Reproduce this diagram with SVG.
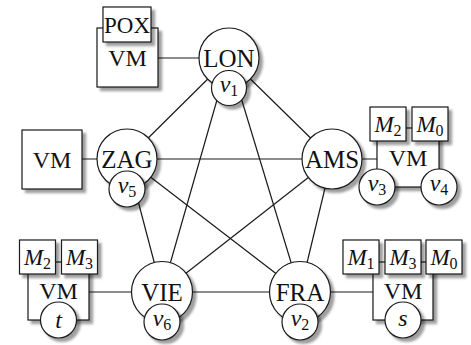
<svg xmlns="http://www.w3.org/2000/svg" width="471" height="345" viewBox="0 0 471 345">
<defs>
<filter id="sh" x="-30%" y="-30%" width="170%" height="170%">
<feDropShadow dx="3.5" dy="3.5" stdDeviation="1.2" flood-color="#000" flood-opacity="0.38"/>
</filter>
</defs>
<style>
.edge{stroke:#1a1a1a;stroke-width:1.2;fill:none}
.shape{fill:#fff;stroke:#1a1a1a;stroke-width:1.2;filter:url(#sh)}
text{font-family:"Liberation Serif","DejaVu Serif",serif;fill:#111;text-anchor:middle}
.big{font-size:25px}
.mid{font-size:24px}
.lab{font-size:23px}
.it{font-style:italic}
.sub{font-size:16px;font-style:normal}
</style>
<rect width="471" height="345" fill="#fff"/>
<g id="connectors">
<line class="edge" x1="229" y1="58" x2="127" y2="159"/>
<line class="edge" x1="229" y1="58" x2="332" y2="159"/>
<line class="edge" x1="229" y1="58" x2="162" y2="292"/>
<line class="edge" x1="229" y1="58" x2="300" y2="292"/>
<line class="edge" x1="127" y1="159" x2="332" y2="159"/>
<line class="edge" x1="127" y1="159" x2="162" y2="292"/>
<line class="edge" x1="127" y1="159" x2="300" y2="292"/>
<line class="edge" x1="332" y1="159" x2="162" y2="292"/>
<line class="edge" x1="332" y1="159" x2="300" y2="292"/>
<line class="edge" x1="162" y1="292" x2="300" y2="292"/>
<line class="edge" x1="158" y1="58" x2="229" y2="58"/>
<line class="edge" x1="82" y1="159" x2="127" y2="159"/>
<line class="edge" x1="332" y1="159" x2="377" y2="159"/>
<line class="edge" x1="89" y1="292" x2="162" y2="292"/>
<line class="edge" x1="300" y1="292" x2="373" y2="292"/>
</g>
<g id="vm-lon">
<rect class="shape" x="97" y="28" width="61" height="59"/>
<rect class="shape" x="103" y="7" width="48" height="35"/>
<text class="lab" x="127" y="32.5">POX</text>
<text class="mid" x="127.5" y="66">VM</text>
</g>
<g id="vm-zag">
<rect class="shape" x="22" y="130" width="60" height="59"/>
<text class="mid" x="52" y="167.5">VM</text>
</g>
<g id="vm-ams">
<rect class="shape" x="377" y="128" width="62" height="59"/>
<rect class="shape" x="370" y="107" width="36" height="34"/>
<rect class="shape" x="412" y="107" width="36" height="34"/>
<text class="lab" x="388" y="132"><tspan class="it">M</tspan><tspan class="sub" dy="4">2</tspan></text>
<text class="lab" x="430" y="132"><tspan class="it">M</tspan><tspan class="sub" dy="4">0</tspan></text>
<text class="mid" x="408" y="166">VM</text>
<circle class="shape" cx="377" cy="187" r="18"/>
<text class="mid" x="377" y="191"><tspan class="it">v</tspan><tspan class="sub" dy="4">3</tspan></text>
<circle class="shape" cx="439" cy="187" r="18"/>
<text class="mid" x="439" y="191"><tspan class="it">v</tspan><tspan class="sub" dy="4">4</tspan></text>
</g>
<g id="vm-vie">
<rect class="shape" x="28" y="262" width="61" height="58"/>
<rect class="shape" x="19.5" y="240" width="36" height="34"/>
<rect class="shape" x="61.5" y="240" width="36" height="34"/>
<text class="lab" x="37.5" y="265"><tspan class="it">M</tspan><tspan class="sub" dy="4">2</tspan></text>
<text class="lab" x="79.5" y="265"><tspan class="it">M</tspan><tspan class="sub" dy="4">3</tspan></text>
<text class="mid" x="58.5" y="299">VM</text>
<circle class="shape" cx="58.5" cy="320" r="18"/>
<text class="mid it" x="58.5" y="328">t</text>
</g>
<g id="vm-fra">
<rect class="shape" x="373" y="262" width="60" height="58"/>
<rect class="shape" x="343" y="240" width="36" height="34"/>
<rect class="shape" x="385" y="240" width="36" height="34"/>
<rect class="shape" x="426" y="240" width="36" height="34"/>
<text class="lab" x="361" y="265"><tspan class="it">M</tspan><tspan class="sub" dy="4">1</tspan></text>
<text class="lab" x="403" y="265"><tspan class="it">M</tspan><tspan class="sub" dy="4">3</tspan></text>
<text class="lab" x="444" y="265"><tspan class="it">M</tspan><tspan class="sub" dy="4">0</tspan></text>
<text class="mid" x="403" y="299">VM</text>
<circle class="shape" cx="403" cy="320" r="18"/>
<text class="mid it" x="403" y="326">s</text>
</g>
<g id="lon">
<circle class="shape" cx="229" cy="58" r="30"/>
<text class="big" x="229" y="66.5">LON</text>
<circle class="shape" cx="229" cy="88" r="17.5"/>
<text class="mid" x="229" y="92"><tspan class="it">v</tspan><tspan class="sub" dy="4">1</tspan></text>
</g>
<g id="zag">
<circle class="shape" cx="127" cy="159" r="30"/>
<text class="big" x="127" y="167.5">ZAG</text>
<circle class="shape" cx="127" cy="189" r="18"/>
<text class="mid" x="127" y="193"><tspan class="it">v</tspan><tspan class="sub" dy="4">5</tspan></text>
</g>
<g id="ams">
<circle class="shape" cx="332" cy="159" r="30"/>
<text class="big" x="332" y="167.5">AMS</text>
</g>
<g id="vie">
<circle class="shape" cx="162" cy="292" r="30.5"/>
<text class="big" x="162" y="300.5">VIE</text>
<circle class="shape" cx="162" cy="322" r="18"/>
<text class="mid" x="162" y="326"><tspan class="it">v</tspan><tspan class="sub" dy="4">6</tspan></text>
</g>
<g id="fra">
<circle class="shape" cx="300" cy="292" r="30.5"/>
<text class="big" x="300" y="300.5">FRA</text>
<circle class="shape" cx="300" cy="322" r="18"/>
<text class="mid" x="300" y="326"><tspan class="it">v</tspan><tspan class="sub" dy="4">2</tspan></text>
</g>
</svg>
